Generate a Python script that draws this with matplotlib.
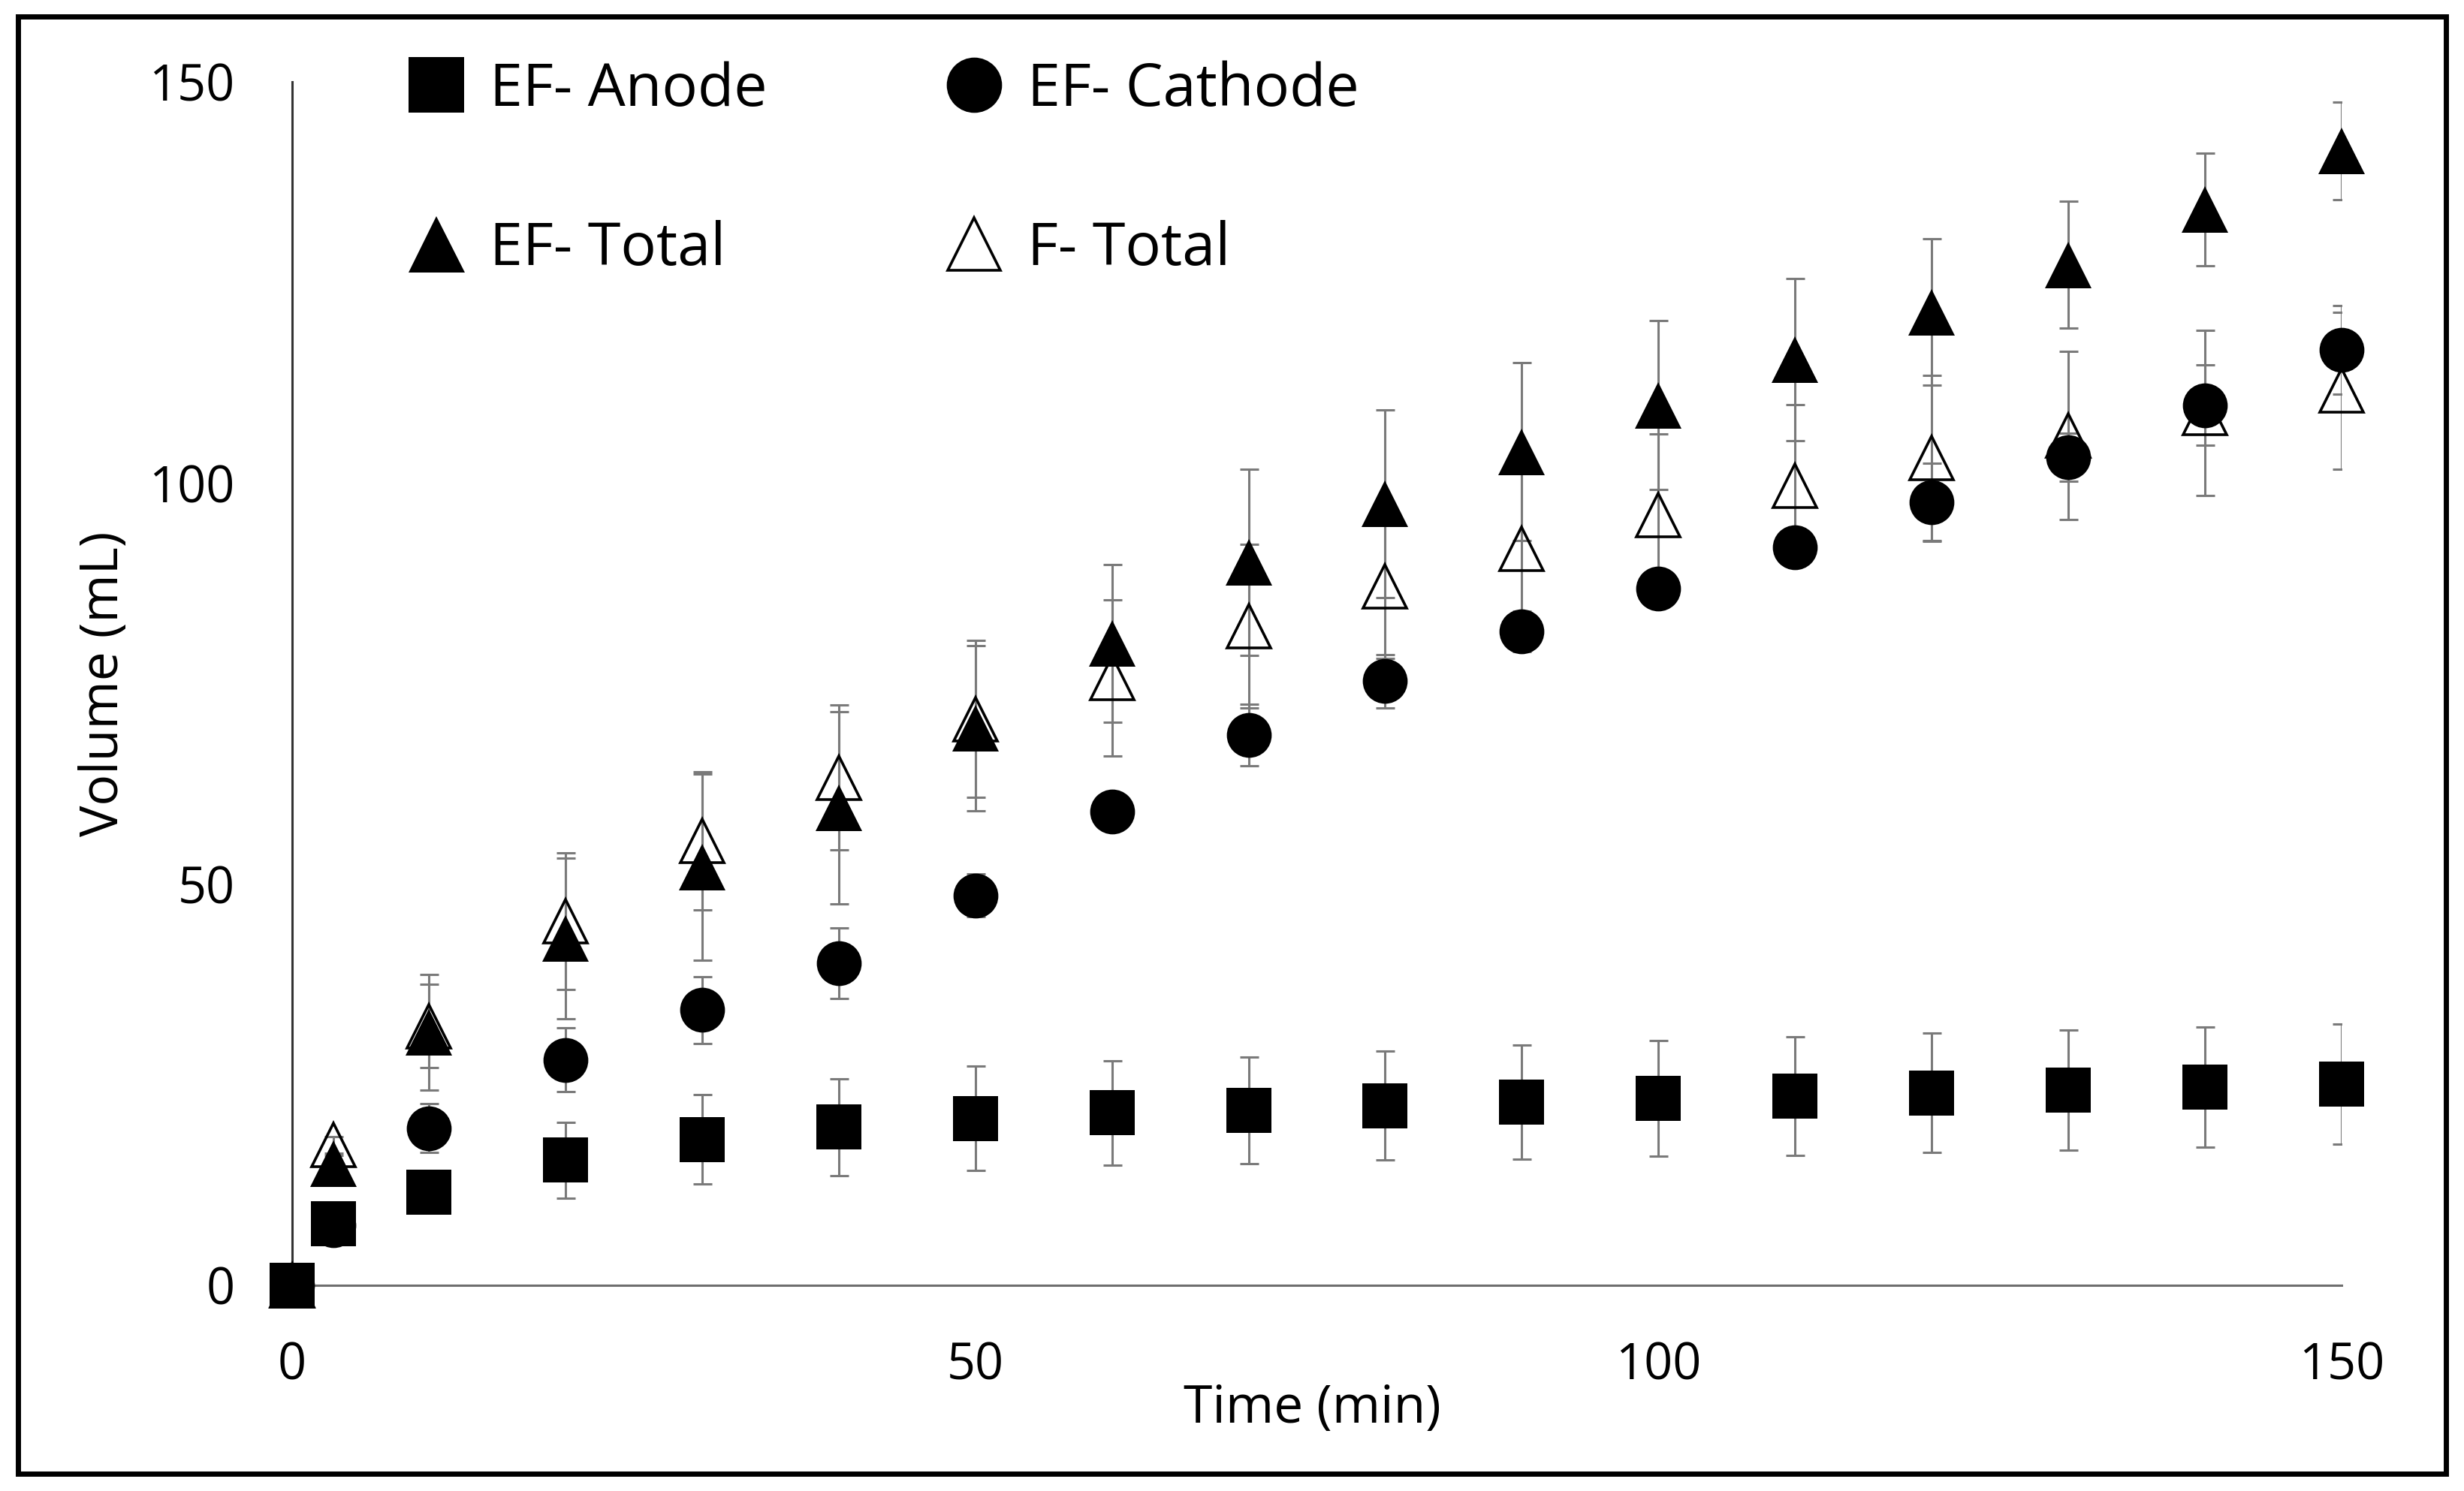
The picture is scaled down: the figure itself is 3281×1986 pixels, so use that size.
import numpy as np
import matplotlib.pyplot as plt
from matplotlib.lines import Line2D
from matplotlib.patches import Rectangle

plt.rcParams['font.family'] = ['Open Sans', 'DejaVu Sans']

time = [0, 3, 10, 20, 30, 40, 50, 60, 70, 80, 90, 100, 110, 120, 130, 140, 150]

anode = [0, 7.7, 11.6, 15.6, 18.2, 19.7, 20.8, 21.5, 21.8, 22.4, 22.8, 23.3, 23.6, 24.0, 24.3, 24.7, 25.1]
anode_err = [0, 0.8, 1.2, 4.7, 5.6, 6.0, 6.5, 6.5, 6.6, 6.8, 7.1, 7.2, 7.4, 7.4, 7.5, 7.5, 7.5]

cathode = [0, 7.5, 19.6, 28.1, 34.3, 40.1, 48.6, 59.0, 68.6, 75.3, 81.5, 86.8, 92.0, 97.6, 103.2, 109.7, 116.6]
cathode_err = [0, 0.5, 3.0, 4.0, 4.2, 4.4, 2.7, 1.0, 3.8, 3.3, 2.5, 2.0, 2.0, 4.9, 3.0, 5.0, 5.5]

ef_total = [0, 15.2, 31.5, 43.2, 52.1, 59.5, 69.4, 80.0, 90.1, 97.4, 103.9, 109.7, 115.4, 121.3, 127.2, 134.1, 141.4]
ef_total_err = [0, 1.0, 7.2, 10.0, 11.6, 12.0, 10.3, 9.8, 11.6, 11.7, 11.1, 10.5, 10.1, 9.1, 7.9, 7.0, 6.1]

f_total = [0, 17.5, 32.3, 45.4, 55.4, 63.3, 70.6, 75.7, 82.2, 87.1, 91.8, 96.0, 99.7, 103.1, 105.9, 108.7, 111.5]
f_total_err = [0, 1.0, 5.2, 8.5, 8.6, 9.0, 9.8, 9.7, 10.2, 9.0, 10.0, 10.1, 10.1, 10.3, 10.5, 10.3, 9.8]

labels = ['EF- Anode', 'EF- Cathode', 'EF- Total', 'F- Total']

W, H = 3281, 1986
fig = plt.figure(figsize=(W / 100, H / 100), dpi=100)
# axes box: x=0 at px 389, x=150 at px 3118, y=0 at px 1712, y=150 at px 109
ax = fig.add_axes([389 / W, 1 - 1712 / H, (3118 - 389) / W, (1712 - 109) / H])

# error bars first, so the markers sit on top
for y, e in [(f_total, f_total_err), (anode, anode_err),
             (cathode, cathode_err), (ef_total, ef_total_err)]:
    ax.errorbar(time, y, yerr=e, fmt='none', ecolor='#7a7a7a',
                elinewidth=2.2, capsize=9, capthick=2.2, zorder=2)

ax.plot(time, f_total, ls='none', marker='^', ms=42, mfc='none', mec='black',
        mew=2.6, zorder=3, clip_on=False)
ax.plot(time, cathode, ls='none', marker='o', ms=43, color='black', mew=0,
        zorder=4, clip_on=False)
ax.plot(time, anode, ls='none', marker='s', ms=43, color='black', mew=0,
        zorder=5, clip_on=False)
ax.plot(time, ef_total, ls='none', marker='^', ms=44, color='black', mew=0,
        zorder=6, clip_on=False)

ax.set_xlim(0, 150)
ax.set_ylim(0, 150)
ax.set_xticks([0, 50, 100, 150])
ax.set_yticks([0, 50, 100, 150])
ax.tick_params(axis='both', length=0, labelsize=48, labelcolor='black')
ax.tick_params(axis='x', pad=53)
ax.tick_params(axis='y', pad=55)

ax.spines['top'].set_visible(False)
ax.spines['right'].set_visible(False)
ax.spines['left'].set_color('#333333')
ax.spines['left'].set_linewidth(2.2)
ax.spines['bottom'].set_color('#6e6e6e')
ax.spines['bottom'].set_linewidth(2.2)

ax.set_xlabel('Time (min)', fontsize=50)
ax.xaxis.set_label_coords(0.4976, (1712 - 1895) / (1712 - 109))
ax.xaxis.label.set_va('baseline')
ax.set_ylabel('Volume (mL)', fontsize=50)
ax.yaxis.set_label_coords((157 - 389) / (3118 - 389), 0.5)
ax.yaxis.label.set_va('baseline')

h_anode = Line2D([], [], ls='none', marker='s', ms=53, color='black', mew=0)
h_cath = Line2D([], [], ls='none', marker='o', ms=53, color='black', mew=0)
h_ef = Line2D([], [], ls='none', marker='^', ms=54, color='black', mew=0)
h_f = Line2D([], [], ls='none', marker='^', ms=51, mfc='none', mec='black', mew=2.6)

ax.legend([h_anode, h_ef, h_cath, h_f],
          [labels[0], labels[2], labels[1], labels[3]],
          ncol=2, loc='upper left',
          bbox_to_anchor=(541.5 / W, 1 - 81 / H), bbox_transform=fig.transFigure,
          frameon=False, fontsize=57, handlelength=1.0, handletextpad=0.4,
          columnspacing=2.97, labelspacing=1.68, borderpad=0, borderaxespad=0)

# black frame around the whole picture
fig.add_artist(Rectangle((23.5 / W, 1 - 1963 / H), (3257 - 23.5) / W, (1963 - 22) / H,
                         transform=fig.transFigure, fill=False, lw=5, ec='black'))

fig.savefig('out.png', dpi=100)
